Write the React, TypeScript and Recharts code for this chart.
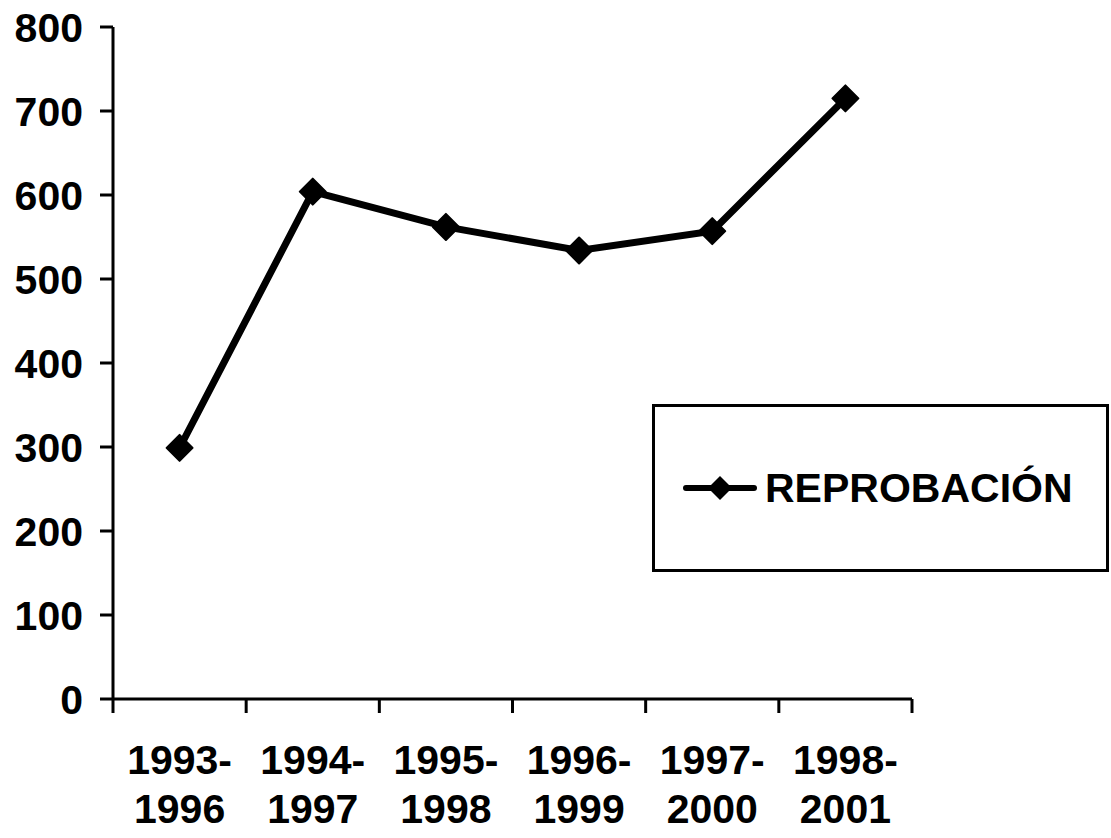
import React from "react";
import { LineChart, Line, XAxis, YAxis } from "recharts";

const periodStart = ["1993-", "1994-", "1995-", "1996-", "1997-", "1998-"];
const periodEnd = ["1996", "1997", "1998", "1999", "2000", "2001"];
const reprobacion = [299, 604, 562, 534, 557, 715];
const seriesName = "REPROBACIÓN";
const yTicks = [0, 100, 200, 300, 400, 500, 600, 700, 800];
const boundaryTicks = [0, 1, 2, 3, 4, 5, 6];
const labelTicks = [0.5, 1.5, 2.5, 3.5, 4.5, 5.5];

const data = reprobacion.map((v, i) => ({
  pos: i + 0.5,
  value: v,
}));

const FONT = "'Liberation Sans', Arial, sans-serif";

const Diamond = (props: any) => {
  const { cx, cy } = props;
  if (cx == null || cy == null) return null;
  const r = 13;
  return (
    <polygon
      points={`${cx},${cy - r} ${cx + r},${cy} ${cx},${cy + r} ${cx - r},${cy}`}
      fill="#000"
      stroke="#000"
      strokeWidth={2}
      strokeLinejoin="round"
    />
  );
};

const PeriodTick = (props: any) => {
  const { x, y, payload } = props;
  const idx = Math.round(payload.value - 0.5);
  return (
    <text
      x={x}
      y={y}
      textAnchor="middle"
      fontFamily={FONT}
      fontWeight="bold"
      fontSize={41}
      fill="#000"
    >
      <tspan x={x} dy={53}>{periodStart[idx]}</tspan>
      <tspan x={x} dy={49}>{periodEnd[idx]}</tspan>
    </text>
  );
};

// legend drawn as a plain box so it doesn't take space from the plot
const LegendBox = () => (
  <div
    style={{
      position: "absolute",
      left: 652,
      top: 404,
      width: 457,
      height: 168,
      border: "3px solid #000",
      boxSizing: "border-box",
      display: "flex",
      alignItems: "center",
      paddingLeft: 28,
      background: "#fff",
    }}
  >
    <svg width={74} height={30}>
      <line x1={3} y1={15} x2={71} y2={15} stroke="#000" strokeWidth={6} strokeLinecap="round" />
      <polygon points="37,3 49,15 37,27 25,15" fill="#000" />
    </svg>
    <span
      style={{
        fontFamily: FONT,
        fontWeight: "bold",
        fontSize: 41,
        color: "#000",
        marginLeft: 8,
      }}
    >
      {seriesName}
    </span>
  </div>
);

export default function App() {
  return (
    <div style={{ position: "absolute", left: 0, top: 0, width: 1111, height: 838, background: "#fff" }}>
      <LineChart
        width={1111}
        height={838}
        data={data}
        margin={{ top: 27, right: 199, left: 0, bottom: 0 }}
      >
        <XAxis
          xAxisId="bounds"
          dataKey="pos"
          type="number"
          domain={[0, 6]}
          ticks={boundaryTicks}
          tickFormatter={() => ""}
          height={14}
          tickSize={14}
          axisLine={{ stroke: "#000", strokeWidth: 3 }}
          tickLine={{ stroke: "#000", strokeWidth: 3 }}
        />
        <XAxis
          xAxisId="labels"
          dataKey="pos"
          type="number"
          domain={[0, 6]}
          allowDataOverflow
          ticks={labelTicks}
          height={125}
          axisLine={false}
          tickLine={false}
          tick={<PeriodTick />}
          interval={0}
        />
        <YAxis
          domain={[0, 800]}
          ticks={yTicks}
          width={113}
          tickSize={13}
          tickMargin={17}
          interval={0}
          axisLine={{ stroke: "#000", strokeWidth: 3 }}
          tickLine={{ stroke: "#000", strokeWidth: 3 }}
          tick={{ fontFamily: FONT, fontWeight: "bold", fontSize: 41, fill: "#000" }}
        />
        <Line
          xAxisId="bounds"
          type="linear"
          dataKey="value"
          name={seriesName}
          stroke="#000"
          strokeWidth={7}
          dot={<Diamond />}
          activeDot={false}
          isAnimationActive={false}
        />
      </LineChart>
      <LegendBox />
    </div>
  );
}
